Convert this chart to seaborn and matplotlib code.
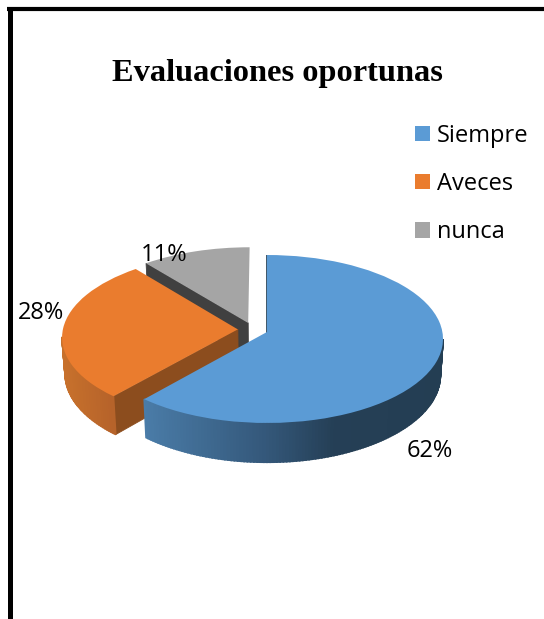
import numpy as np
import matplotlib
matplotlib.use("Agg")
import matplotlib.pyplot as plt
import matplotlib.transforms as mtransforms
from matplotlib.colors import to_rgb
import seaborn as sns

title = "Evaluaciones oportunas"
categories = ["Siempre", "Aveces", "nunca"]
percentages = [62, 28, 11]
top_colors = ["#5B9BD5", "#EA7C2E", "#A5A5A5"]
cut_colors = ["#243E53", "#8C4D1E", "#404040"]
side_ramps = [
    [(145, "#4A7CA8"), (267, "#34587A"), (335, "#253F56"), (445, "#243E53")],
    [(60, "#C9722C"), (115, "#B5622A")],
    [(0, "#404040"), (544, "#404040")],
]
label_positions = [(430, 451), (41, 313), (164, 255)]

# view parameters of the tilted disc
CX, CY, RX, RY, PERSP, DEPTH, TAPER = 267.0, 332.0, 175.4, 83.4, 0.0833, 36.0, 0.985


def project(u, v, z=0.0):
    u, v = np.asarray(u, float), np.asarray(v, float)
    s = 1.0 / (1.0 + PERSP * v)
    taper = 1.0 - (1.0 - TAPER) * z
    return CX + RX * u * s * taper, CY - RY * v * s + z * DEPTH * s


class Tilt(mtransforms.Transform):
    input_dims = output_dims = 2
    is_separable = False
    has_inverse = False

    def transform_non_affine(self, values):
        x, y = project(values[:, 0], values[:, 1])
        return np.column_stack([x, y])


sns.set_theme(style="white")
plt.rcParams["font.family"] = ["Open Sans", "DejaVu Sans"]

fig = plt.figure(figsize=(5.44, 6.19), dpi=100, facecolor="white")
ax = fig.add_axes([0, 0, 1, 1])

palette = sns.color_palette(top_colors)
wedges, _ = ax.pie(
    percentages,
    colors=palette,
    explode=[0.085, 0.087, 0.085],
    center=(-0.0797, 0.0298),
    radius=1,
    startangle=90,
    counterclock=False,
    normalize=True,
)
ax.set_aspect("auto")
ax.set_xlim(0, 544)
ax.set_ylim(619, 0)
ax.set_axis_off()

tilt = Tilt() + ax.transData
layer = {2: 2, 1: 4, 0: 6}
for i, w in enumerate(wedges):
    base = layer[i]
    w.set_transform(tilt)
    w.set_zorder(base + 0.5)
    w.set_linewidth(0)
    cx, cy = w.center
    t1, t2 = np.radians(w.theta1), np.radians(w.theta2)

    # visible cut face
    ru, rv = cx + np.cos(t2), cy + np.sin(t2)
    xa, ya = project([cx, ru], [cy, rv])
    xb, yb = project([ru, cx], [rv, cy], 1.0)
    ax.fill(np.r_[xa, xb], np.r_[ya, yb], color=cut_colors[i], lw=0.6, zorder=base)

    # outer rim, only the part facing the viewer
    stops, ramp = zip(*side_ramps[i])
    ramp_rgb = np.array([to_rgb(c) for c in ramp])
    angles = np.linspace(t1, t2, int(np.degrees(t2 - t1)) + 2)
    for a0, a1 in zip(angles[:-1], angles[1:]):
        if np.sin((a0 + a1) / 2) >= -PERSP:
            continue
        uu = cx + np.cos([a0, a1])
        vv = cy + np.sin([a0, a1])
        xt, yt = project(uu, vv)
        xl, yl = project(uu[::-1], vv[::-1], 1.0)
        xm = xt.mean()
        col = [np.interp(xm, stops, ramp_rgb[:, k]) for k in range(3)]
        ax.fill(np.r_[xt, xl], np.r_[yt, yl], color=col, lw=1.2, zorder=base + 0.2)

# data labels
for pct, (x, y) in zip(percentages, label_positions):
    ax.text(x, y, f"{pct}%", ha="center", va="center", fontsize=17,
            color="black", zorder=10)

# title
ax.text(277.5, 73, title, ha="center", va="center", fontsize=23.3,
        family="Liberation Serif", weight="bold", color="black", zorder=10)

# legend
leg = ax.legend(
    wedges, categories,
    loc="upper left",
    bbox_to_anchor=(415 / 544, 1 - 124 / 619),
    bbox_transform=fig.transFigure,
    frameon=False,
    fontsize=17,
    labelcolor="black",
    handlelength=0.62,
    handleheight=0.62,
    handletextpad=0.3,
    labelspacing=1.02,
    borderpad=0,
    borderaxespad=0,
)
leg.set_zorder(10)

# page border
ax.plot([9.5, 9.5], [7, 619], color="black", lw=3.6, solid_capstyle="butt", zorder=12)
ax.plot([7, 544], [9, 9], color="black", lw=3.0, solid_capstyle="butt", zorder=12)

fig.savefig("out.png", dpi=100, facecolor="white")
